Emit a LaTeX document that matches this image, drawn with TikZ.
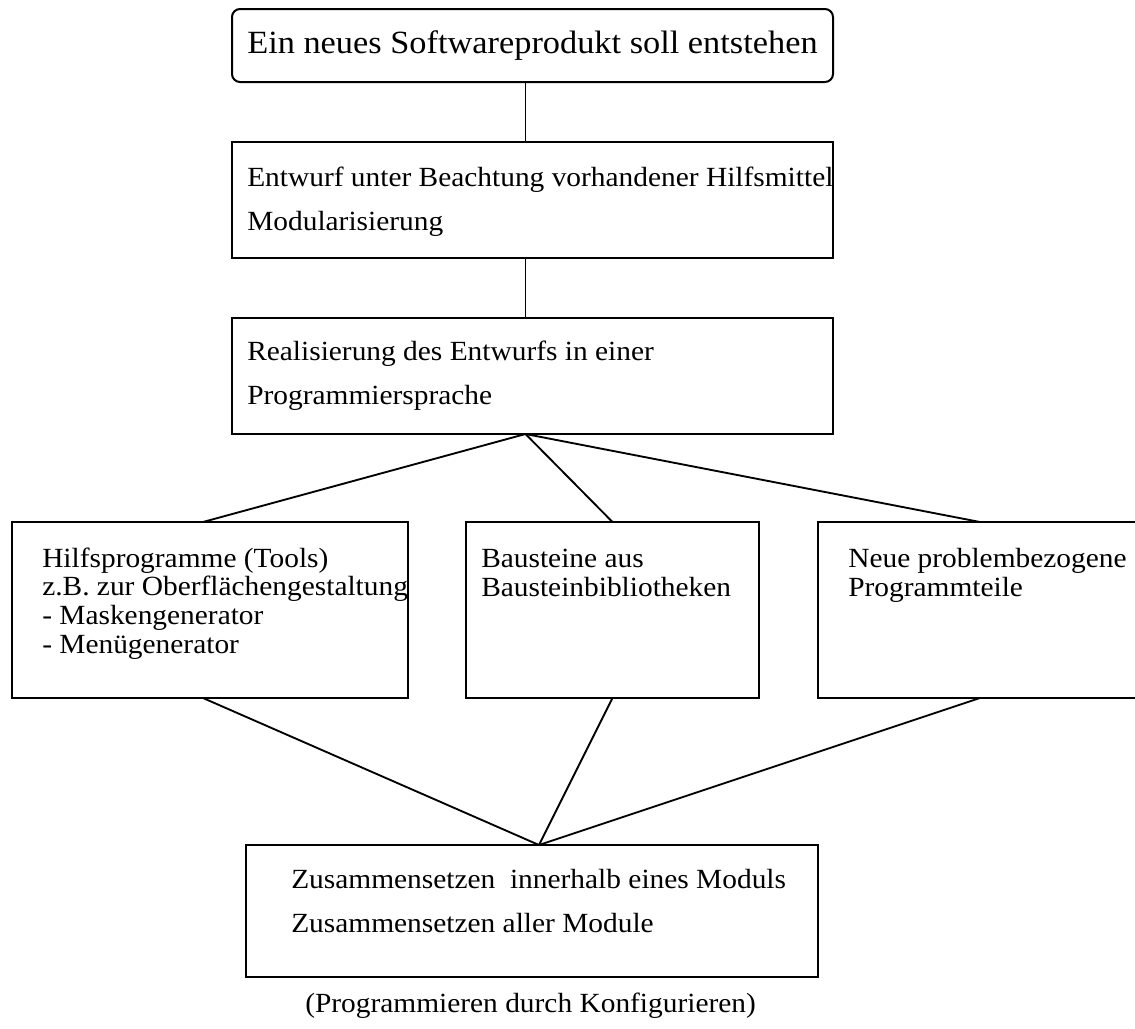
\documentclass[tikz,border=0pt]{standalone}
\usepackage{fontspec}
\setmainfont{Liberation Serif}[FakeStretch=1.06]
\usepackage{tikz}

\tikzset{
  box/.style={draw, line width=1.5pt, inner sep=0pt, outer sep=0pt},
  txt/.style={anchor=base west, inner sep=0pt, align=left, font=\fontsize{20.8}{21.5}\selectfont},
  loose/.style={font=\fontsize{20.8}{32.3}\selectfont},
  link/.style={line width=1.4pt}
}

\begin{document}
\begin{tikzpicture}[x=0.75pt,y=0.75pt,yscale=-1,xscale=1]
\useasboundingbox (0,0) rectangle (1135,1028);

%Shape: Rounded Rect
\node [box, rounded corners=6pt, minimum width=450.75pt, minimum height=54.75pt] (start) at (532.5,45.5) {};
%Shape: Rectangle
\node [box, minimum width=450.75pt, minimum height=87pt] (design) at (532.5,200) {};
%Shape: Rectangle
\node [box, minimum width=450.75pt, minimum height=87pt] (impl) at (532.5,376) {};
%Shape: Rectangle
\node [box, minimum width=297pt, minimum height=132pt] (tools) at (210,610) {};
%Shape: Rectangle
\node [box, minimum width=219.75pt, minimum height=132pt] (lib) at (612.5,610) {};
%Shape: Rectangle
\node [box, minimum width=243pt, minimum height=132pt] (newparts) at (980,610) {};
%Shape: Rectangle
\node [box, minimum width=429pt, minimum height=99pt] (config) at (532,911) {};

\coordinate (fork) at ([xshift=-5.25pt]impl.south);
\coordinate (join) at ([xshift=5.25pt]config.north);

%Straight Lines
\draw [link] ([xshift=-5.25pt]start.south) -- ([xshift=-5.25pt]design.north);
%Straight Lines
\draw [link] ([xshift=-5.25pt]design.south) -- ([xshift=-5.25pt]impl.north);
%Straight Lines
\draw [link] (fork) -- ([xshift=-5.25pt]tools.north);
\draw [link] (fork) -- (lib.north);
\draw [link] (fork) -- (newparts.north);
%Straight Lines
\draw [link] ([xshift=-5.25pt]tools.south) -- (join);
\draw [link] (lib.south) -- (join);
\draw [link] (newparts.south) -- (join);

% Text Node (base = last line)
\node [txt, font=\fontsize{24.3}{28}\selectfont] (tstart) at (247,53) {Ein neues Softwareprodukt soll entstehen};
% Text Node
\node [txt, loose] (tdesign) at (247,230) {Entwurf unter Beachtung vorhandener Hilfsmittel\\Modularisierung};
% Text Node
\node [txt, loose] (timpl) at (247,404) {Realisierung des Entwurfs in einer\\Programmiersprache};
% Text Node
\node [txt] (ttools) at (42,653) {Hilfsprogramme (Tools)\\z.B. zur Oberflächengestaltung\\- Maskengenerator\\- Menügenerator};
% Text Node
\node [txt] (tlib) at (481,596) {Bausteine aus\\Bausteinbibliotheken};
% Text Node
\node [txt] (tnew) at (848,596) {Neue problembezogene\\Programmteile};
% Text Node
\node [txt, loose] (tconfig) at (291,932) {Zusammensetzen\ \ innerhalb eines Moduls\\Zusammensetzen aller Module};
% Text Node
\node [txt] (tnote) at (305,1012) {(Programmieren durch Konfigurieren)};
\end{tikzpicture}
\end{document}
